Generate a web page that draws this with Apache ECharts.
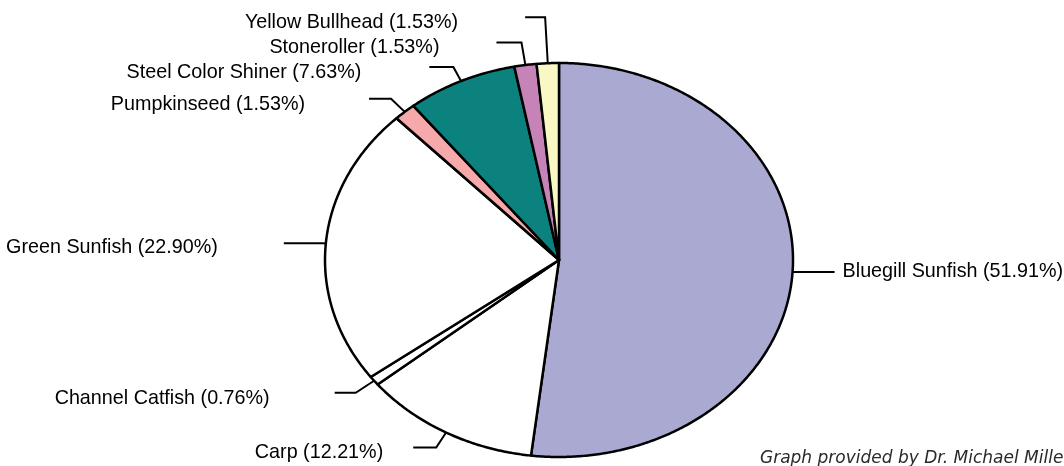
<!DOCTYPE html>
<html><head><meta charset="utf-8">
<script src="https://cdn.jsdelivr.net/npm/echarts@6/dist/echarts.min.js"></script>
<style>html,body{margin:0;padding:0;background:#fff}#c{width:1064px;height:466px}</style>
</head><body><div id="c"></div>
<script>
// ---- data ----
const categories = ['Bluegill Sunfish','Carp','Channel Catfish','Green Sunfish','Pumpkinseed','Steel Color Shiner','Stoneroller','Yellow Bullhead'];
const percents = [51.91, 12.21, 0.76, 22.90, 1.53, 7.63, 1.53, 1.53];
const footerText = 'Graph provided by Dr. Michael Miller';

// ---- styles / layout (kept separate from data) ----
const sliceColors = ['#aaa9d1','#ffffff','#ffffff','#ffffff','#f5a9aa','#0c827e','#c583b8','#f9f8c4'];
// [radial leader length, horizontal leader length, text gap, text dy]
const leaderLayout = [[2,40,8,-1],[18,23,30,5],[22,21,65,5],[3,39,66,4],[19,22,64,6],[16,24,68,5],[23,25,57,5],[46,20,67,5]];
const CX = 559, CY = 260, RX = 234, RY = 197;

const total = percents.reduce((a, b) => a + b, 0);
const starts = [];
let acc = 0;
percents.forEach(v => { starts.push(acc); acc += v; });

function pt(angDeg) {
  const a = angDeg * Math.PI / 180;
  return [CX + RX * Math.sin(a), CY - RY * Math.cos(a)];
}

const chart = echarts.init(document.getElementById('c'), null, {renderer: 'canvas'});
chart.setOption({
  backgroundColor: '#ffffff',
  animation: false,
  graphic: [{
    type: 'text', left: 760, top: 450, silent: true,
    style: {text: footerText, fill: '#2a2a2a', font: 'italic 17px "DejaVu Sans"'}
  }],
  series: [{
    type: 'custom',
    coordinateSystem: 'none',
    data: percents.map((v, i) => [i, v]),
    renderItem: function (params, api) {
      const i = params.dataIndex;
      const v = api.value(1);
      const a0 = starts[i] / total * 360;
      const a1 = a0 + v / total * 360;
      const pts = [[CX, CY]];
      const steps = Math.max(2, Math.ceil((a1 - a0) / 0.5));
      for (let s = 0; s <= steps; s++) pts.push(pt(a0 + (a1 - a0) * s / steps));
      const mid = (a0 + a1) / 2;
      const p0 = pt(mid);
      const dx = p0[0] - CX, dy = p0[1] - CY, len = Math.hypot(dx, dy);
      const L = leaderLayout[i];
      const p1 = [p0[0] + L[0] * dx / len, p0[1] + L[0] * dy / len];
      const side = p0[0] > CX ? 1 : -1;
      const p2 = [p1[0] + side * L[1], p1[1]];
      return {
        type: 'group',
        children: [
          {type: 'polygon', shape: {points: pts},
           style: {fill: sliceColors[i], stroke: '#000', lineWidth: 2.5, lineJoin: 'round'}},
          {type: 'polyline', shape: {points: [p0, p1, p2]},
           style: {fill: null, stroke: '#000', lineWidth: 2}},
          {type: 'text',
           x: p2[0] + side * L[2], y: p2[1] + L[3], scaleX: 0.94, scaleY: 1,
           style: {text: categories[i] + ' (' + percents[i].toFixed(2) + '%)',
                   x: 0, y: 0,
                   align: side > 0 ? 'left' : 'right', verticalAlign: 'middle',
                   fill: '#000', font: '21px "Liberation Sans"'}}
        ]
      };
    }
  }]
});
</script>
</body></html>
